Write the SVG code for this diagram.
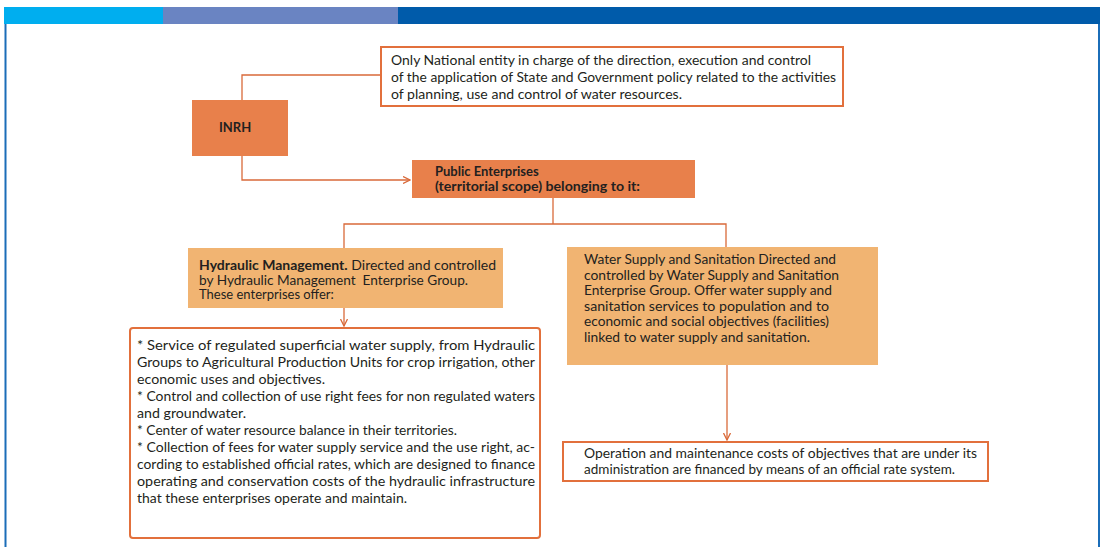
<svg xmlns="http://www.w3.org/2000/svg" width="1102" height="547" viewBox="0 0 1102 547">
<style>
.t{font-family:Lato,"Open Sans","Liberation Sans",sans-serif;font-size:13px;fill:#231f20}
.b{font-weight:bold}
.outl{fill:#fff;stroke:#e2703c;stroke-width:2}
.dark{fill:#e8804b;stroke:none}
.tan{fill:#f1b472;stroke:none}
.conn{fill:none;stroke:#d96a3a;stroke-width:1.3}
</style>
<defs>
<marker id="arr" viewBox="0 0 8 8" refX="7" refY="4" markerWidth="8" markerHeight="8" markerUnits="userSpaceOnUse" orient="auto">
<path d="M0,0.5 L7,4 L0,7.5" fill="none" stroke="#d96a3a" stroke-width="1.3"/>
</marker>
</defs>
<rect x="0" y="0" width="1102" height="547" fill="#fff"/>
<g id="frame">
<rect x="4" y="7" width="159" height="17" fill="#00aeef"/>
<rect x="163" y="7" width="235" height="17" fill="#6a84c2"/>
<rect x="398" y="7" width="702" height="17" fill="#005baa"/>
<line x1="5.5" y1="24" x2="5.5" y2="547" stroke="#1b6db8" stroke-width="2"/>
<line x1="1099" y1="24" x2="1099" y2="547" stroke="#1b6db8" stroke-width="2"/>
</g>
<g id="connectors">
<path class="conn" d="M242,100 V75 H380"/>
<path class="conn" d="M242,156 V180 H410" marker-end="url(#arr)"/>
<path class="conn" d="M553,198 V224"/>
<path class="conn" d="M344,248 V224 H726 V247"/>
<path class="conn" d="M344,308 V326" marker-end="url(#arr)"/>
<path class="conn" d="M727,365 V440" marker-end="url(#arr)"/>
</g>
<g id="top-box">
<rect class="outl" x="381" y="47" width="462" height="59"/>
<text class="t" x="391" y="65" textLength="420" lengthAdjust="spacingAndGlyphs">Only National entity in charge of the direction, execution and control</text>
<text class="t" x="391" y="82" textLength="445" lengthAdjust="spacingAndGlyphs">of the application of State and Government policy related to the activities</text>
<text class="t" x="391" y="99" textLength="291" lengthAdjust="spacingAndGlyphs">of planning, use and control of water resources.</text>
</g>
<g id="inrh">
<rect class="dark" x="192" y="100" width="96" height="56"/>
<text class="t b" x="219" y="132" font-size="14">INRH</text>
</g>
<g id="public-enterprises">
<rect class="dark" x="412" y="160" width="283" height="38"/>
<text class="t b" x="435" y="176">Public Enterprises</text>
<text class="t b" x="435" y="191" textLength="205" lengthAdjust="spacingAndGlyphs">(territorial scope) belonging to it:</text>
</g>
<g id="hydraulic-management">
<rect class="tan" x="188" y="248" width="315" height="60"/>
<text class="t" x="199" y="270" textLength="297" lengthAdjust="spacingAndGlyphs"><tspan class="b">Hydraulic Management.</tspan> Directed and controlled</text>
<text class="t" x="199" y="285" textLength="269" lengthAdjust="spacingAndGlyphs">by Hydraulic Management&#160; Enterprise Group.</text>
<text class="t" x="199" y="299">These enterprises offer:</text>
</g>
<g id="hydraulic-services">
<rect class="outl" x="130" y="328" width="410" height="210" rx="3"/>
<text class="t" x="137" y="350" textLength="398" lengthAdjust="spacingAndGlyphs">* Service of regulated superficial water supply, from Hydraulic</text>
<text class="t" x="137" y="367" textLength="398" lengthAdjust="spacingAndGlyphs">Groups to Agricultural Production Units for crop irrigation, other</text>
<text class="t" x="137" y="384" textLength="188" lengthAdjust="spacingAndGlyphs">economic uses and objectives.</text>
<text class="t" x="137" y="401" textLength="398" lengthAdjust="spacingAndGlyphs">* Control and collection of use right fees for non regulated waters</text>
<text class="t" x="137" y="418" textLength="109" lengthAdjust="spacingAndGlyphs">and groundwater.</text>
<text class="t" x="137" y="435" textLength="320" lengthAdjust="spacingAndGlyphs">* Center of water resource balance in their territories.</text>
<text class="t" x="137" y="452" textLength="398" lengthAdjust="spacingAndGlyphs">* Collection of fees for water supply service and the use right, ac-</text>
<text class="t" x="137" y="469" textLength="398" lengthAdjust="spacingAndGlyphs">cording to established official rates, which are designed to finance</text>
<text class="t" x="137" y="486" textLength="398" lengthAdjust="spacingAndGlyphs">operating and conservation costs of the hydraulic infrastructure</text>
<text class="t" x="137" y="503" textLength="270" lengthAdjust="spacingAndGlyphs">that these enterprises operate and maintain.</text>
</g>
<g id="water-supply">
<rect class="tan" x="567" y="247" width="311" height="118"/>
<text class="t" x="584" y="264" textLength="252" lengthAdjust="spacingAndGlyphs">Water Supply and Sanitation Directed and</text>
<text class="t" x="584" y="280" textLength="255" lengthAdjust="spacingAndGlyphs">controlled by Water Supply and Sanitation</text>
<text class="t" x="584" y="295" textLength="248" lengthAdjust="spacingAndGlyphs">Enterprise Group. Offer water supply and</text>
<text class="t" x="584" y="311" textLength="245" lengthAdjust="spacingAndGlyphs">sanitation services to population and to</text>
<text class="t" x="584" y="326" textLength="245" lengthAdjust="spacingAndGlyphs">economic and social objectives (facilities)</text>
<text class="t" x="584" y="342" textLength="226" lengthAdjust="spacingAndGlyphs">linked to water supply and sanitation.</text>
</g>
<g id="rate-system">
<rect class="outl" x="563" y="442" width="425" height="39"/>
<text class="t" x="584" y="458" textLength="393" lengthAdjust="spacingAndGlyphs">Operation and maintenance costs of objectives that are under its</text>
<text class="t" x="584" y="474" textLength="371" lengthAdjust="spacingAndGlyphs">administration are financed by means of an official rate system.</text>
</g>
</svg>
